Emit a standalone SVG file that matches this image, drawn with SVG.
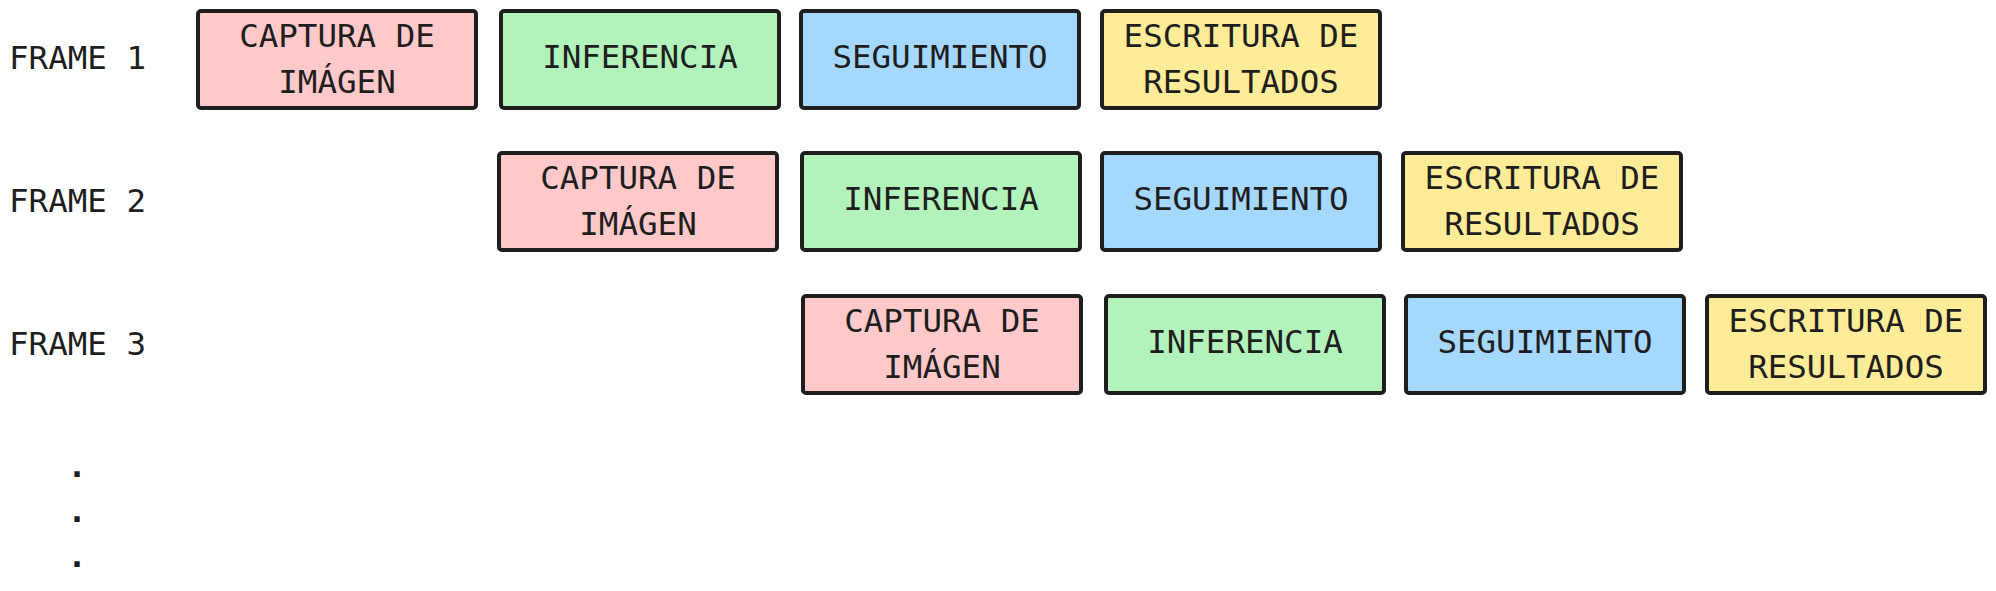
<svg xmlns="http://www.w3.org/2000/svg" width="1996" height="591" viewBox="0 0 1996 591">
<style>
  text { font-family: "DejaVu Sans Mono", "Liberation Mono", monospace; font-size: 32.5px; fill: #1e1e1e; }
  .c { text-anchor: middle; }
  .dot { font-weight: bold; }
  .box { stroke: #1e1e1e; stroke-width: 4; }
  .cap .box { fill: #ffc9c9; }
  .inf .box { fill: #b2f2bb; }
  .seg .box { fill: #a5d8ff; }
  .esc .box { fill: #ffec99; }
</style>
<rect x="0" y="0" width="1996" height="591" fill="#ffffff"/>
<g id="labels">
  <text x="9" y="69">FRAME 1</text>
  <text x="9" y="212">FRAME 2</text>
  <text x="9" y="355">FRAME 3</text>
  <text class="c dot" x="77" y="477">.</text>
  <text class="c dot" x="77" y="522">.</text>
  <text class="c dot" x="77" y="567">.</text>
</g>
<g id="connectors"></g>
<!-- Row 1 -->
<g id="f1-captura" class="cap">
  <rect class="box" x="198" y="11" width="278" height="97" rx="3"/>
  <text class="c" x="337" y="47">CAPTURA DE</text>
  <text class="c" x="337" y="92.5">IMÁGEN</text>
</g>
<g id="f1-inferencia" class="inf">
  <rect class="box" x="501" y="11" width="278" height="97" rx="3"/>
  <text class="c" x="640" y="68">INFERENCIA</text>
</g>
<g id="f1-seguimiento" class="seg">
  <rect class="box" x="801" y="11" width="278" height="97" rx="3"/>
  <text class="c" x="940" y="68">SEGUIMIENTO</text>
</g>
<g id="f1-escritura" class="esc">
  <rect class="box" x="1102" y="11" width="278" height="97" rx="3"/>
  <text class="c" x="1241" y="47">ESCRITURA DE</text>
  <text class="c" x="1241" y="92.5">RESULTADOS</text>
</g>
<!-- Row 2 -->
<g id="f2-captura" class="cap">
  <rect class="box" x="499" y="153" width="278" height="97" rx="3"/>
  <text class="c" x="638" y="189">CAPTURA DE</text>
  <text class="c" x="638" y="234.5">IMÁGEN</text>
</g>
<g id="f2-inferencia" class="inf">
  <rect class="box" x="802" y="153" width="278" height="97" rx="3"/>
  <text class="c" x="941" y="210">INFERENCIA</text>
</g>
<g id="f2-seguimiento" class="seg">
  <rect class="box" x="1102" y="153" width="278" height="97" rx="3"/>
  <text class="c" x="1241" y="210">SEGUIMIENTO</text>
</g>
<g id="f2-escritura" class="esc">
  <rect class="box" x="1403" y="153" width="278" height="97" rx="3"/>
  <text class="c" x="1542" y="189">ESCRITURA DE</text>
  <text class="c" x="1542" y="234.5">RESULTADOS</text>
</g>
<!-- Row 3 -->
<g id="f3-captura" class="cap">
  <rect class="box" x="803" y="296" width="278" height="97" rx="3"/>
  <text class="c" x="942" y="332">CAPTURA DE</text>
  <text class="c" x="942" y="377.5">IMÁGEN</text>
</g>
<g id="f3-inferencia" class="inf">
  <rect class="box" x="1106" y="296" width="278" height="97" rx="3"/>
  <text class="c" x="1245" y="353">INFERENCIA</text>
</g>
<g id="f3-seguimiento" class="seg">
  <rect class="box" x="1406" y="296" width="278" height="97" rx="3"/>
  <text class="c" x="1545" y="353">SEGUIMIENTO</text>
</g>
<g id="f3-escritura" class="esc">
  <rect class="box" x="1707" y="296" width="278" height="97" rx="3"/>
  <text class="c" x="1846" y="332">ESCRITURA DE</text>
  <text class="c" x="1846" y="377.5">RESULTADOS</text>
</g>
</svg>
